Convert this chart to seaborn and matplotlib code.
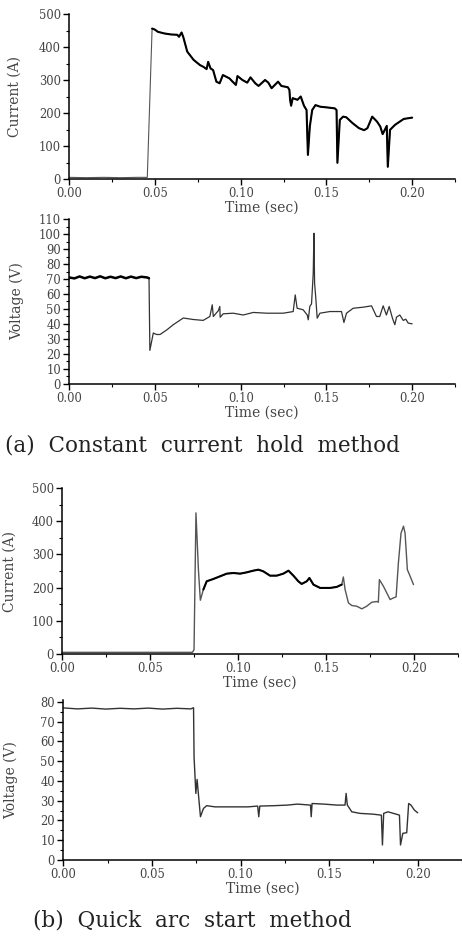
import numpy as np
import pandas as pd
import matplotlib
matplotlib.use("Agg")
import matplotlib.pyplot as plt
from matplotlib.ticker import MultipleLocator, FormatStrFormatter
import seaborn as sns

# (a) constant current hold method - current
a_cur_t = [0.000, 0.010, 0.020, 0.030, 0.040, 0.0455, 0.0483, 0.0498, 0.0517, 0.0555,
           0.0593, 0.0630, 0.0640, 0.0655, 0.0665, 0.0688, 0.0725, 0.0763, 0.0782, 0.0801,
           0.0810, 0.0824, 0.0839, 0.0858, 0.0877, 0.0896, 0.0934, 0.0962, 0.0972, 0.0981,
           0.1010, 0.1038, 0.1057, 0.1085, 0.1104, 0.1142, 0.1161, 0.1180, 0.1218, 0.1237,
           0.1275, 0.1284, 0.1288, 0.1294, 0.1303, 0.1331, 0.1350, 0.1369, 0.1384, 0.1392,
           0.1403, 0.1417, 0.1436, 0.1464, 0.1502, 0.1549, 0.1559, 0.1564, 0.1578, 0.1597,
           0.1616, 0.1653, 0.1690, 0.1720, 0.1739, 0.1767, 0.1795, 0.1814, 0.1828, 0.1852,
           0.1858, 0.1871, 0.1900, 0.1928, 0.1951, 0.2000]
a_cur_v = [5, 4, 5, 4, 5, 5, 456, 453, 446, 441,
           438, 437, 431, 444, 430, 386, 361, 345, 340, 333,
           355, 335, 330, 295, 290, 315, 305, 290, 285, 312,
           300, 292, 308, 290, 282, 300, 292, 275, 295, 282,
           278, 270, 240, 222, 245, 240, 250, 222, 209, 73,
           159, 209, 224, 219, 217, 214, 209, 49, 179, 189,
           187, 169, 154, 148, 154, 189, 174, 159, 136, 161,
           37, 149, 164, 174, 182, 186]

# (a) voltage
a_vol_t = [0.000, 0.003, 0.006, 0.009, 0.012, 0.015, 0.018, 0.021, 0.024, 0.027,
           0.030, 0.033, 0.036, 0.039, 0.042, 0.0455, 0.0465, 0.0470, 0.0490, 0.0509,
           0.0529, 0.0568, 0.0606, 0.0665, 0.0723, 0.0781, 0.0820, 0.0834, 0.0840, 0.0869,
           0.0878, 0.0880, 0.0898, 0.0956, 0.1015, 0.1073, 0.1151, 0.1248, 0.1306, 0.1318,
           0.1329, 0.1364, 0.1388, 0.1394, 0.1403, 0.1413, 0.1423, 0.1427, 0.1431, 0.1438,
           0.1446, 0.1462, 0.1520, 0.1588, 0.1602, 0.1617, 0.1656, 0.1714, 0.1763, 0.1792,
           0.1811, 0.1831, 0.1850, 0.1866, 0.1885, 0.1899, 0.1909, 0.1928, 0.1948, 0.1963,
           0.1977, 0.2000]
a_vol_v = [71.0, 70.4, 71.7, 70.5, 71.6, 70.6, 71.8, 70.5, 71.5, 70.6,
           71.7, 70.5, 71.6, 70.6, 71.5, 71.0, 70.5, 22.4, 34.0, 33.0,
           33.0, 36.0, 39.5, 44.0, 43.0, 42.4, 45.0, 52.8, 45.0, 48.8,
           51.7, 44.5, 46.8, 47.2, 46.0, 47.7, 47.2, 47.2, 48.3, 59.4,
           50.5, 49.5, 46.0, 42.8, 51.7, 53.4, 73.8, 100.5, 67.0, 57.2,
           43.9, 47.2, 48.3, 48.3, 41.0, 47.2, 50.5, 51.2, 52.1, 45.0,
           45.0, 52.1, 46.0, 51.7, 43.9, 39.5, 44.6, 46.0, 42.4, 43.2,
           40.6, 40.1]

# (b) quick arc start method - current
b_cur_t = [0.000, 0.020, 0.040, 0.060, 0.0740, 0.0749, 0.0760, 0.0774, 0.0785, 0.0802,
           0.0821, 0.0859, 0.0897, 0.0935, 0.0973, 0.1011, 0.1049, 0.1086, 0.1115, 0.1143,
           0.1181, 0.1219, 0.1257, 0.1286, 0.1314, 0.1342, 0.1361, 0.1390, 0.1405, 0.1428,
           0.1466, 0.1523, 0.1560, 0.1589, 0.1598, 0.1608, 0.1627, 0.1646, 0.1674, 0.1703,
           0.1731, 0.1760, 0.1788, 0.1797, 0.1803, 0.1826, 0.1845, 0.1864, 0.1883, 0.1898,
           0.1911, 0.1926, 0.1940, 0.1949, 0.1962, 0.1978, 0.1997]
b_cur_v = [5, 5, 5, 5, 5, 13, 425, 254, 162, 194,
           219, 226, 234, 242, 244, 242, 246, 251, 254, 249,
           236, 236, 242, 251, 236, 219, 211, 219, 229, 209,
           199, 199, 202, 209, 232, 194, 154, 146, 144, 136,
           144, 156, 158, 156, 224, 204, 184, 164, 169, 172,
           274, 364, 385, 364, 254, 234, 209]

# (b) voltage
b_vol_t = [0.000, 0.008, 0.016, 0.024, 0.032, 0.040, 0.048, 0.056, 0.064, 0.072,
           0.0735, 0.0738, 0.0748, 0.0755, 0.0774, 0.0791, 0.0809, 0.0856, 0.0949, 0.1042,
           0.1097, 0.1103, 0.1109, 0.1190, 0.1265, 0.1321, 0.1395, 0.1399, 0.1404, 0.1470,
           0.1544, 0.1590, 0.1596, 0.1603, 0.1628, 0.1674, 0.1749, 0.1795, 0.1801, 0.1808,
           0.1832, 0.1879, 0.1897, 0.1903, 0.1916, 0.1938, 0.1949, 0.1962, 0.1981, 0.2000]
b_vol_v = [77.0, 76.5, 76.9, 76.4, 76.8, 76.5, 76.9, 76.4, 76.8, 76.5,
           77.1, 52.0, 33.7, 40.8, 21.9, 26.1, 27.5, 26.9, 26.9, 26.9,
           27.3, 21.9, 27.3, 27.5, 27.8, 28.3, 27.8, 21.9, 28.6, 28.3,
           27.8, 27.8, 33.7, 27.8, 24.4, 23.6, 23.2, 22.7, 7.6, 23.6,
           24.4, 23.2, 22.7, 7.6, 13.5, 13.8, 28.6, 27.8, 25.3, 23.9]

sns.set_style("ticks")
plt.rcParams["font.family"] = ["DejaVu Serif"]
TXT = "#444444"

W, H = 462, 940
fig = plt.figure(figsize=(W / 100, H / 100), dpi=100)


def make_ax(l, r, top, bot):
    return fig.add_axes([l / W, 1 - bot / H, (r - l) / W, (bot - top) / H])


def style(ax, ymax, ymaj, ymin, ylabel, ylabx):
    ax.set_xlim(0, 0.225)
    ax.set_ylim(0, ymax)
    ax.xaxis.set_major_locator(MultipleLocator(0.05))
    ax.xaxis.set_minor_locator(MultipleLocator(0.025))
    ax.xaxis.set_major_formatter(FormatStrFormatter("%.2f"))
    ax.yaxis.set_major_locator(MultipleLocator(ymaj))
    ax.yaxis.set_minor_locator(MultipleLocator(ymin))
    ax.tick_params(which="major", length=4, width=1, color="black",
                   labelsize=8.3, labelcolor=TXT, pad=2)
    ax.tick_params(which="minor", length=2.5, width=0.8, color="black")
    for s in ["top", "right"]:
        ax.spines[s].set_visible(False)
    for s in ["left", "bottom"]:
        ax.spines[s].set_linewidth(1.1)
        ax.spines[s].set_color("black")
    ax.set_xlabel("Time (sec)", fontsize=10, color=TXT, labelpad=0)
    ax.set_ylabel(ylabel, fontsize=10, color=TXT)
    ax.yaxis.set_label_coords(ylabx, 0.5)


def draw(ax, t, v, thick_from, thick_to, lw_thick, lw_thin, thin_color):
    df = pd.DataFrame({"t": t, "v": v})
    sns.lineplot(data=df, x="t", y="v", ax=ax, color=thin_color, lw=lw_thin,
                 sort=False, estimator=None)
    seg = df[(df.t >= thick_from) & (df.t <= thick_to)]
    sns.lineplot(data=seg, x="t", y="v", ax=ax, color="black", lw=lw_thick,
                 sort=False, estimator=None)


ax1 = make_ax(69.3, 455, 14, 179)
draw(ax1, a_cur_t, a_cur_v, 0.0483, 0.2, 1.5, 0.8, "#555555")
style(ax1, 500, 100, 50, "Current (A)", -0.123)

ax2 = make_ax(69.3, 455, 219, 384)
draw(ax2, a_vol_t, a_vol_v, 0.0, 0.0465, 1.8, 0.9, "#333333")
style(ax2, 110, 10, 5, "Voltage (V)", -0.117)

ax3 = make_ax(62.3, 458, 488, 654)
draw(ax3, b_cur_t, b_cur_v, 0.0802, 0.159, 1.5, 1.0, "#555555")
style(ax3, 500, 100, 50, "Current (A)", -0.115)

ax4 = make_ax(63.3, 462, 700, 860)
draw(ax4, b_vol_t, b_vol_v, 0.0, 0.0, 1.0, 1.0, "#333333")
style(ax4, 81, 10, 5, "Voltage (V)", -0.113)

fig.text(202 / W, 1 - 446 / H, "(a)  Constant  current  hold  method",
         ha="center", va="center", fontsize=15.5, color="#222222")
fig.text(192 / W, 1 - 920 / H, "(b)  Quick  arc  start  method",
         ha="center", va="center", fontsize=15.5, color="#222222")

fig.savefig("out.png", dpi=100, facecolor="white")
